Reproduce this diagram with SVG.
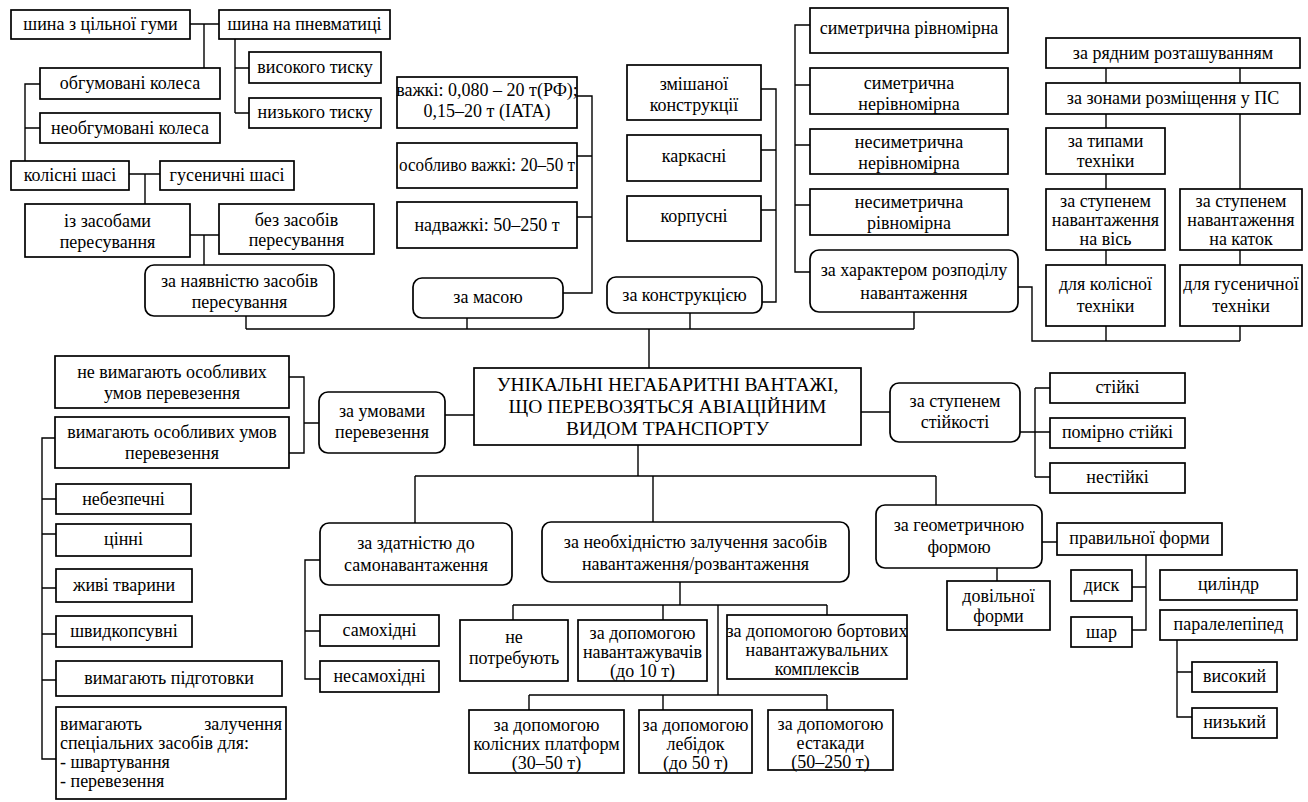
<svg xmlns="http://www.w3.org/2000/svg" width="1308" height="802" viewBox="0 0 1308 802" font-family="'Liberation Serif', 'Times New Roman', Tinos, 'DejaVu Serif', serif">
<style>
.b{fill:#fff;stroke:#000;stroke-width:1.7}
text{font-family:'Liberation Serif','Times New Roman',Tinos,'DejaVu Serif',serif;font-size:18px;fill:#000;text-anchor:middle}
.l{text-anchor:start}
.e{text-anchor:end}
.t{font-size:19.5px}
.c{fill:none;stroke:#000;stroke-width:1.4}
</style>
<rect width="1308" height="802" fill="#fff"/>
<g id="connectors" class="c">
<path d="M190,24H219M204,24V68M235,39V113M235,68H249M235,113H249M40,84H25V161M25,128H40M129,174H160M145,174V204M190,235H219M204,235V265"/>
<path d="M246,316V329M246,329H914M467,318V329M690,313V329M914,312V329M649,329V368"/>
<path d="M577,96H592V293H563M577,156H592M577,217H592"/>
<path d="M761,89H776V302H762M761,150H776M761,210H776"/>
<path d="M810,25H795V272H810M795,85H810M795,145H810M795,205H810"/>
<path d="M1106,68V83M1240,68V83M1106,114V128M1240,114V189M1106,174V189M1106,250V265M1240,250V265M1106,326V341M1240,326V341M1018,287H1032V341H1240"/>
<path d="M445,415H474M289,377H304V453H289M304,423H319"/>
<path d="M55,438H42V759H56M42,499H56M42,534H56M42,588H56M42,634H56M42,680H56"/>
<path d="M861,412H890M1020,432H1035M1035,388V477M1035,388H1050M1035,432H1050M1035,477H1050"/>
<path d="M638,445V476M415,476H936M415,476V523M653,476V522M936,476V505"/>
<path d="M320,560H305V679H320M305,631H320"/>
<path d="M680,582V605M513,605H827M513,605V620M663,605V620M827,605V615M718,605V695M529,695H827M529,695V710M663,695V710M827,695V710"/>
<path d="M1042,542H1057M997,568V581M1146,555V630H1132M1132,587H1146"/>
<path d="M1177,640V717H1192M1177,672H1192"/>
</g>
<g id="n1"><rect class="b" x="11" y="10" width="179" height="29"/><text x="100.5" y="30">шина з цільної гуми</text></g>
<g id="n2"><rect class="b" x="219" y="10" width="171" height="29"/><text x="304.5" y="30">шина на пневматиці</text></g>
<g id="n3"><rect class="b" x="249" y="52" width="132" height="31"/><text x="315" y="73">високого тиску</text></g>
<g id="n4"><rect class="b" x="249" y="98" width="132" height="30"/><text x="315" y="118">низького тиску</text></g>
<g id="n5"><rect class="b" x="40" y="68" width="180" height="31"/><text x="130" y="89">обгумовані колеса</text></g>
<g id="n6"><rect class="b" x="40" y="113" width="180" height="30"/><text x="130" y="134">необгумовані колеса</text></g>
<g id="n7"><rect class="b" x="11" y="161" width="118" height="29"/><text x="70" y="181">колісні шасі</text></g>
<g id="n8"><rect class="b" x="160" y="161" width="134" height="29"/><text x="227" y="181">гусеничні шасі</text></g>
<g id="n9"><rect class="b" x="25" y="204" width="165" height="53"/><text x="107.5" y="227">із засобами</text><text x="107.5" y="248">пересування</text></g>
<g id="n10"><rect class="b" x="219" y="204" width="155" height="50"/><text x="296.5" y="226">без засобів</text><text x="296.5" y="246">пересування</text></g>
<g id="n11"><rect class="b" x="145" y="265" width="189" height="51" rx="9"/><text x="239.5" y="287">за наявністю засобів</text><text x="239.5" y="308">пересування</text></g>
<g id="n12"><rect class="b" x="397" y="77" width="180" height="51"/><text x="487" y="96">важкі: 0,080 – 20 т(РФ);</text><text x="487" y="117">0,15–20 т (IATA)</text></g>
<g id="n13"><rect class="b" x="397" y="143" width="180" height="45"/><text x="487" y="171" textLength="176" lengthAdjust="spacingAndGlyphs">особливо важкі: 20–50 т</text></g>
<g id="n14"><rect class="b" x="397" y="202" width="180" height="46"/><text x="487" y="231">надважкі: 50–250 т</text></g>
<g id="n15"><rect class="b" x="413" y="278" width="150" height="40" rx="9"/><text x="488" y="303">за масою</text></g>
<g id="n16"><rect class="b" x="627" y="65" width="134" height="55"/><text x="694" y="90">змішаної</text><text x="694" y="111">конструкції</text></g>
<g id="n17"><rect class="b" x="627" y="135" width="134" height="46"/><text x="694" y="162">каркасні</text></g>
<g id="n18"><rect class="b" x="627" y="196" width="134" height="45"/><text x="694" y="222">корпусні</text></g>
<g id="n19"><rect class="b" x="607" y="277" width="155" height="36" rx="9"/><text x="684.5" y="301">за конструкцією</text></g>
<g id="n20"><rect class="b" x="810" y="8" width="198" height="45"/><text x="909" y="34">симетрична рівномірна</text></g>
<g id="n21"><rect class="b" x="810" y="68" width="198" height="46"/><text x="909" y="89">симетрична</text><text x="909" y="110">нерівномірна</text></g>
<g id="n22"><rect class="b" x="810" y="129" width="198" height="45"/><text x="909" y="148">несиметрична</text><text x="909" y="169">нерівномірна</text></g>
<g id="n23"><rect class="b" x="810" y="189" width="198" height="46"/><text x="909" y="208">несиметрична</text><text x="909" y="229">рівномірна</text></g>
<g id="n24"><rect class="b" x="810" y="250" width="208" height="62" rx="9"/><text x="914" y="276">за характером розподілу</text><text x="914" y="299">навантаження</text></g>
<g id="n25"><rect class="b" x="1046" y="38" width="254" height="30"/><text x="1173" y="59">за рядним розташуванням</text></g>
<g id="n26"><rect class="b" x="1046" y="83" width="254" height="31"/><text x="1173" y="104">за зонами розміщення у ПС</text></g>
<g id="n27"><rect class="b" x="1046" y="128" width="119" height="46"/><text x="1105.5" y="147">за типами</text><text x="1105.5" y="167">техніки</text></g>
<g id="n28"><rect class="b" x="1046" y="189" width="119" height="61"/><text x="1105.5" y="207">за ступенем</text><text x="1105.5" y="226">навантаження</text><text x="1105.5" y="245">на вісь</text></g>
<g id="n29"><rect class="b" x="1180" y="189" width="122" height="61"/><text x="1241" y="207">за ступенем</text><text x="1241" y="226">навантаження</text><text x="1241" y="245">на каток</text></g>
<g id="n30"><rect class="b" x="1046" y="265" width="119" height="61"/><text x="1105.5" y="290">для колісної</text><text x="1105.5" y="312">техніки</text></g>
<g id="n31"><rect class="b" x="1180" y="265" width="122" height="61"/><text x="1241" y="290">для гусеничної</text><text x="1241" y="312">техніки</text></g>
<g id="center"><rect class="b" x="474" y="368" width="387" height="77"/><text class="t" x="667.5" y="391">УНІКАЛЬНІ НЕГАБАРИТНІ ВАНТАЖІ,</text><text class="t" x="667.5" y="413">ЩО ПЕРЕВОЗЯТЬСЯ АВІАЦІЙНИМ</text><text class="t" x="667.5" y="435">ВИДОМ ТРАНСПОРТУ</text></g>
<g id="n33"><rect class="b" x="319" y="392" width="126" height="61" rx="9"/><text x="382" y="417">за умовами</text><text x="382" y="438">перевезення</text></g>
<g id="n34"><rect class="b" x="55" y="356" width="234" height="52"/><text x="172" y="378">не вимагають особливих</text><text x="172" y="399">умов перевезення</text></g>
<g id="n35"><rect class="b" x="55" y="417" width="234" height="51"/><text x="172" y="438">вимагають особливих умов</text><text x="172" y="459">перевезення</text></g>
<g id="n36"><rect class="b" x="56" y="484" width="135" height="30"/><text x="123.5" y="505">небезпечні</text></g>
<g id="n37"><rect class="b" x="56" y="524" width="135" height="32"/><text x="123.5" y="545">цінні</text></g>
<g id="n38"><rect class="b" x="56" y="569" width="136" height="33"/><text x="124" y="591">живі тварини</text></g>
<g id="n39"><rect class="b" x="56" y="616" width="136" height="31"/><text x="124" y="637">швидкопсувні</text></g>
<g id="n40"><rect class="b" x="56" y="661" width="226" height="35"/><text x="169" y="684">вимагають підготовки</text></g>
<g id="n41"><rect class="b" x="56" y="707" width="230" height="92"/><text class="l" x="60" y="730">вимагають</text><text class="e" x="282" y="730">залучення</text><text class="l" x="60" y="749">спеціальних засобів для:</text><text class="l" x="60" y="768">- швартування</text><text class="l" x="60" y="787">- перевезення</text></g>
<g id="n42"><rect class="b" x="890" y="383" width="130" height="59" rx="9"/><text x="955" y="407">за ступенем</text><text x="955" y="428">стійкості</text></g>
<g id="n43"><rect class="b" x="1050" y="373" width="135" height="30"/><text x="1117.5" y="393">стійкі</text></g>
<g id="n44"><rect class="b" x="1050" y="418" width="135" height="30"/><text x="1117.5" y="438">помірно стійкі</text></g>
<g id="n45"><rect class="b" x="1050" y="463" width="135" height="30"/><text x="1117.5" y="483">нестійкі</text></g>
<g id="n46"><rect class="b" x="320" y="523" width="192" height="62" rx="9"/><text x="416" y="549">за здатністю до</text><text x="416" y="571">самонавантаження</text></g>
<g id="n46a"><rect class="b" x="320" y="615" width="119" height="31"/><text x="379.5" y="636">самохідні</text></g>
<g id="n46b"><rect class="b" x="320" y="661" width="119" height="31"/><text x="379.5" y="682">несамохідні</text></g>
<g id="n47"><rect class="b" x="542" y="522" width="307" height="60" rx="9"/><text x="695.5" y="548">за необхідністю залучення засобів</text><text x="695.5" y="570">навантаження/розвантаження</text></g>
<g id="n48"><rect class="b" x="876" y="505" width="166" height="63" rx="9"/><text x="959" y="531">за геометричною</text><text x="959" y="553">формою</text></g>
<g id="n49"><rect class="b" x="460" y="620" width="108" height="61"/><text x="514" y="643">не</text><text x="514" y="664">потребують</text></g>
<g id="n50"><rect class="b" x="578" y="620" width="129" height="61"/><text x="642.5" y="639">за допомогою</text><text x="642.5" y="658">навантажувачів</text><text x="642.5" y="677">(до 10 т)</text></g>
<g id="n51"><rect class="b" x="727" y="615" width="180" height="64"/><text x="817" y="637">за допомогою бортових</text><text x="817" y="656">навантажувальних</text><text x="817" y="675">комплексів</text></g>
<g id="n52"><rect class="b" x="469" y="710" width="155" height="63"/><text x="546.5" y="731">за допомогою</text><text x="546.5" y="750">колісних платформ</text><text x="546.5" y="769">(30–50 т)</text></g>
<g id="n53"><rect class="b" x="639" y="710" width="113" height="63"/><text x="695.5" y="731">за допомогою</text><text x="695.5" y="750">лебідок</text><text x="695.5" y="769">(до 50 т)</text></g>
<g id="n54"><rect class="b" x="768" y="710" width="125" height="60"/><text x="830.5" y="730">за допомогою</text><text x="830.5" y="749">естакади</text><text x="830.5" y="768">(50–250 т)</text></g>
<g id="n55"><rect class="b" x="947" y="581" width="103" height="49"/><text x="998.5" y="602">довільної</text><text x="998.5" y="622">форми</text></g>
<g id="n56"><rect class="b" x="1057" y="523" width="165" height="32"/><text x="1139.5" y="544">правильної форми</text></g>
<g id="n57"><rect class="b" x="1071" y="570" width="61" height="31"/><text x="1101.5" y="591">диск</text></g>
<g id="n58"><rect class="b" x="1071" y="617" width="61" height="30"/><text x="1101.5" y="638">шар</text></g>
<g id="n59"><rect class="b" x="1160" y="570" width="137" height="30"/><text x="1228.5" y="590">циліндр</text></g>
<g id="n60"><rect class="b" x="1160" y="610" width="137" height="30"/><text x="1228.5" y="630">паралелепіпед</text></g>
<g id="n61"><rect class="b" x="1192" y="662" width="85" height="30"/><text x="1234.5" y="682">високий</text></g>
<g id="n62"><rect class="b" x="1192" y="708" width="85" height="30"/><text x="1234.5" y="728">низький</text></g>
</svg>
